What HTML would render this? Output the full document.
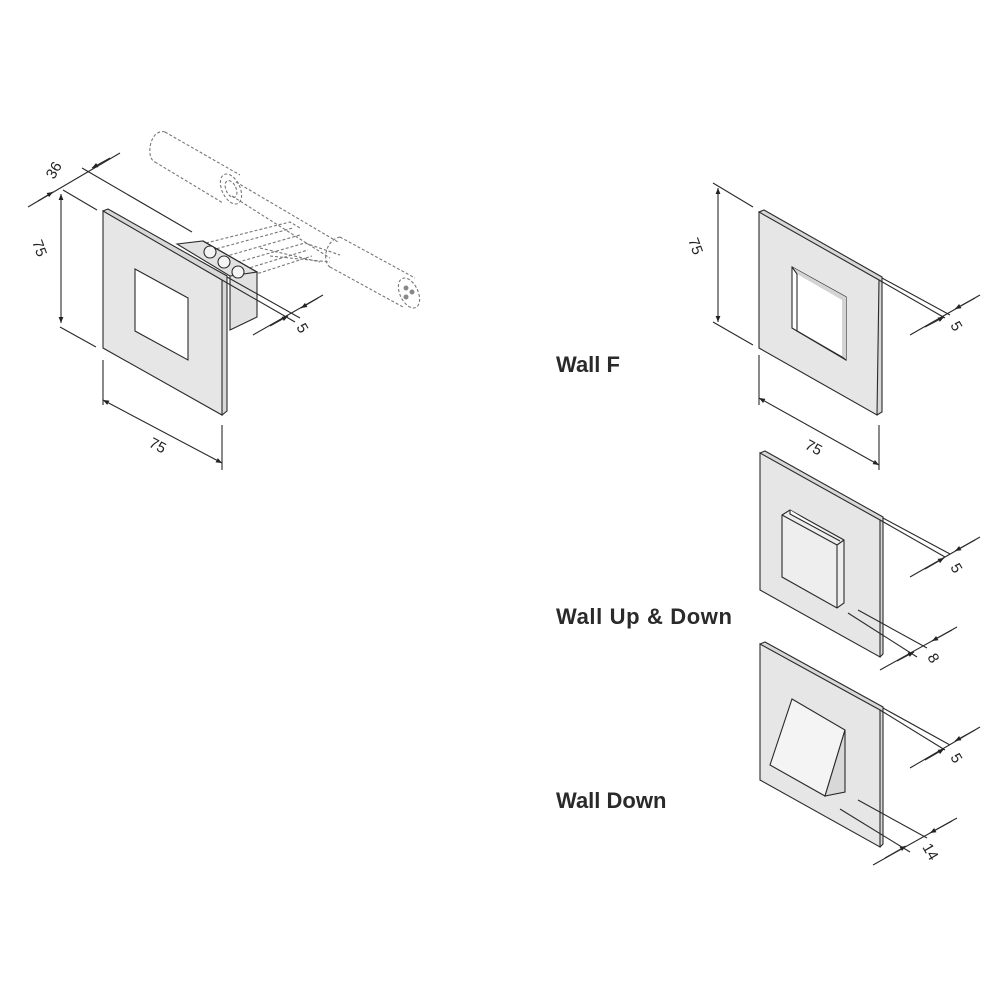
<!DOCTYPE html>
<html><head><meta charset="utf-8"><style>
html,body{margin:0;padding:0;background:#fff;}
svg{display:block}
.lbl{font-family:"Liberation Sans",sans-serif;font-weight:bold;font-size:22px;fill:#2a2a2a}
.dim{font-family:"Liberation Sans",sans-serif;font-size:15px;fill:#222}
</style></head><body>
<svg width="1000" height="1000" viewBox="0 0 1000 1000" xmlns="http://www.w3.org/2000/svg">
<defs>
<marker id="a" viewBox="0 0 10 10" refX="10" refY="5" markerWidth="10" markerHeight="6" orient="auto-start-reverse" markerUnits="userSpaceOnUse"><path d="M0,1 L10,5 L0,9 z" fill="#222"/></marker>
</defs>
<g fill="none" stroke="#2a2a2a" stroke-width="1.1">
<g stroke="#777" stroke-dasharray="3,2">
<path d="M165,132 L240,175 M155,162 L223,203 M165,132 C150,128 145,158 155,162"/>
<ellipse cx="231" cy="189" rx="9" ry="16" transform="rotate(-25 231 189)"/>
<ellipse cx="231" cy="189" rx="5" ry="9" transform="rotate(-25 231 189)"/>
<path d="M236,182 L338,242 M232,196 L330,258"/>
<path d="M340,237 L415,278 M330,267 L403,307 M340,237 C325,240 322,262 330,267"/>
<ellipse cx="409" cy="293" rx="9" ry="16" transform="rotate(-25 409 293)"/>
<path d="M206,243 L290,222 L300,228 M212,250 L293,228 M220,258 L300,235 M228,265 L305,243 L340,255 M236,272 L308,250 M244,278 L312,256 M260,248 L320,262 M270,256 L330,262"/>
</g>
<g fill="#888" stroke="none"><circle cx="406" cy="288" r="2.5"/><circle cx="412" cy="292" r="2.5"/><circle cx="406" cy="297" r="2.5"/></g>
<path d="M177,244 L203,241 L257,272 L257,317 L230,330 L230,276 Z" fill="#e2e2e2"/>
<path d="M203,241 L257,272 L230,276" />
<circle cx="210" cy="252" r="6" fill="#f4f4f4"/><circle cx="224" cy="262" r="6" fill="#f4f4f4"/><circle cx="238" cy="272" r="6" fill="#f4f4f4"/>
<path d="M103,211 L108,209 L227,276 L227,411 L222,415 Z" fill="#d8d8d8"/>
<path d="M103,211 L222,280 L222,415 L103,348 Z" fill="#e6e6e6"/>
<path d="M135,269 L188,298 L188,360 L135,331 Z" fill="#fff"/>
<path d="M63,190 L97,210 M60,327 L96,347"/>
<path d="M61,194 L61,323" marker-start="url(#a)" marker-end="url(#a)"/>
<path d="M28,207 L120,153"/>
<path d="M38,201 L53,192" marker-end="url(#a)"/><path d="M110,158 L92,168" marker-end="url(#a)"/>
<path d="M82,168 L192,232"/>
<path d="M103,360 L103,405 M222,425 L222,470"/>
<path d="M103,400 L222,463" marker-start="url(#a)" marker-end="url(#a)"/>
<path d="M222,280 L295,322 M227,277 L300,318"/>
<path d="M253,335 L323,295"/>
<path d="M270,326 L288,316" marker-end="url(#a)"/><path d="M318,298 L301,308" marker-end="url(#a)"/>

<path d="M759,212 L764,210 L882,277 L882,412 L877,415 Z" fill="#d8d8d8"/>
<path d="M759,212 L879,280 L877,415 L759,348 Z" fill="#e6e6e6"/>
<path d="M792,267 L846,297 L846,360 L792,328 Z" fill="#fff"/>
<path d="M792,267 L846,297 L846,360 L842,357 L842,300 L797,274 Z" fill="#d4d4d4" stroke="none"/>
<path d="M792,267 L797,274 L797,331 L842,357 L846,360"/>
<path d="M713,183 L753,207 M713,322 L753,345"/>
<path d="M718,188 L718,322" marker-start="url(#a)" marker-end="url(#a)"/>
<path d="M879,280 L945,318 M882,278 L950,315"/>
<path d="M910,335 L980,295"/>
<path d="M925,327 L944,317" marker-end="url(#a)"/><path d="M975,298 L955,309" marker-end="url(#a)"/>
<path d="M759,355 L759,405 M879,425 L879,470"/>
<path d="M759,398 L879,465" marker-start="url(#a)" marker-end="url(#a)"/>

<path d="M760,453 L765,451 L883,517 L883,654 L880,657 Z" fill="#d8d8d8"/>
<path d="M760,453 L880,520 L880,657 L760,590 Z" fill="#e6e6e6"/>
<path d="M782,515 L790,510 L844,540 L844,603 L837,608 L782,577 Z" fill="#eeeeee"/>
<path d="M782,515 L837,545 L837,608 M837,545 L844,540"/>
<path d="M790,510 L790,514 L840,541" fill="#fff"/>
<path d="M880,520 L945,557 M883,518 L950,554"/>
<path d="M910,577 L980,537"/>
<path d="M925,569 L944,558" marker-end="url(#a)"/><path d="M975,540 L955,551" marker-end="url(#a)"/>
<path d="M858,610 L927,648 M848,613 L917,657"/>
<path d="M880,670 L957,627"/>
<path d="M897,661 L914,652" marker-end="url(#a)"/><path d="M952,630 L932,641" marker-end="url(#a)"/>

<path d="M760,644 L765,642 L883,707 L883,844 L880,847 Z" fill="#d8d8d8"/>
<path d="M760,644 L880,710 L880,847 L760,780 Z" fill="#e6e6e6"/>
<path d="M792,699 L845,730 L825,796 L770,765 Z" fill="#f4f4f4"/>
<path d="M845,730 L845,792 L825,796 Z" fill="#d8d8d8"/>
<path d="M880,710 L945,750 M883,708 L950,745"/>
<path d="M910,768 L980,727"/>
<path d="M925,760 L944,749" marker-end="url(#a)"/><path d="M975,730 L955,741" marker-end="url(#a)"/>
<path d="M858,800 L927,838 M840,809 L910,852"/>
<path d="M873,865 L957,818"/>
<path d="M885,858 L906,846" marker-end="url(#a)"/><path d="M952,821 L930,833" marker-end="url(#a)"/>
</g>
<text class="dim" transform="translate(54,180) rotate(-60)">36</text>
<text class="dim" transform="translate(32,242) rotate(70)">75</text>
<text class="dim" transform="translate(148,446) rotate(28)">75</text>
<text class="dim" transform="translate(296,327) rotate(60)">5</text>
<text class="dim" transform="translate(688,240) rotate(70)">75</text>
<text class="dim" transform="translate(804,448) rotate(28)">75</text>
<text class="dim" transform="translate(950,325) rotate(60)">5</text>
<text class="dim" transform="translate(950,567) rotate(60)">5</text>
<text class="dim" transform="translate(927,657) rotate(60)">8</text>
<text class="dim" transform="translate(950,757) rotate(60)">5</text>
<text class="dim" transform="translate(922,847) rotate(60)">14</text>
<text class="lbl" x="556" y="372">Wall F</text>
<text class="lbl" x="556" y="624" textLength="176">Wall Up &amp; Down</text>
<text class="lbl" x="556" y="808">Wall Down</text>
</svg>
</body></html>
